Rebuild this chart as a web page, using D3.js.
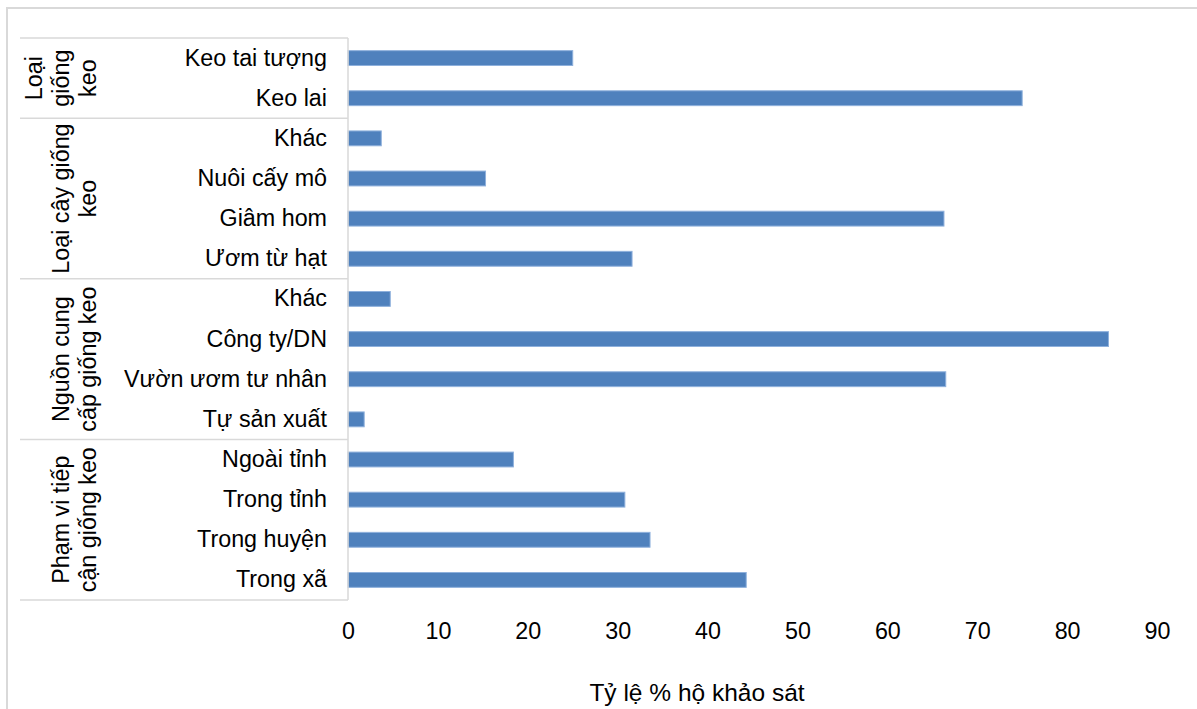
<!DOCTYPE html>
<html>
<head>
<meta charset="utf-8">
<script src="https://cdnjs.cloudflare.com/ajax/libs/d3/7.8.5/d3.min.js"></script>
<style>
  html, body { margin: 0; padding: 0; background: #fff; }
  svg { display: block; font-family: "Liberation Sans", Arial, sans-serif; }
</style>
</head>
<body>
<svg id="chart" width="1197" height="709"></svg>
<script>
// ---- data ----
const categories = ["Keo tai tượng", "Keo lai", "Khác", "Nuôi cấy mô", "Giâm hom", "Ươm từ hạt",
  "Khác", "Công ty/DN", "Vườn ươm tư nhân", "Tự sản xuất",
  "Ngoài tỉnh", "Trong tỉnh", "Trong huyện", "Trong xã"];
const values = [25, 75, 3.7, 15.3, 66.3, 31.6, 4.7, 84.6, 66.5, 1.8, 18.4, 30.8, 33.6, 44.3];
const groupNames = [["Loại", "giống", "keo"], ["Loại cây giống", "keo"], ["Nguồn cung", "cấp giống keo"], ["Phạm vi tiếp", "cận giống keo"]];
const groupSizes = [2, 4, 4, 4];
const tickValues = [0, 10, 20, 30, 40, 50, 60, 70, 80, 90];
const axisTitle = "Tỷ lệ % hộ khảo sát";

// ---- layout ----
const svg = d3.select("#chart");
const plotLeft = 348, plotRight = 1157, plotTop = 38, plotBottom = 600;
const labelFont = 23.3;

svg.append("rect").attr("x", 7).attr("y", 8).attr("width", 1220).attr("height", 720)
  .attr("fill", "none").attr("stroke", "#d9d9d9").attr("stroke-width", 2);

const x = d3.scaleLinear().domain([0, 90]).range([plotLeft, plotRight]);
const idx = categories.map((d, i) => i);
const y = d3.scaleBand().domain(idx).range([plotTop, plotBottom]).paddingInner(0.63).paddingOuter(0.315);

// bars
svg.append("g").selectAll("rect").data(idx).join("rect")
  .attr("x", x(0))
  .attr("y", i => y(i))
  .attr("width", i => x(values[i]) - x(0))
  .attr("height", y.bandwidth())
  .attr("fill", "#4f81bd")
  .attr("stroke", "#8eb0dc").attr("stroke-width", 1);

// x axis ticks (labels only)
const xAxis = d3.axisBottom(x).tickValues(tickValues).tickSize(0).tickPadding(0);
const gx = svg.append("g").attr("transform", `translate(0,${plotBottom})`).call(xAxis);
gx.select(".domain").remove();
gx.selectAll("text").attr("font-size", labelFont).attr("fill", "#000")
  .attr("font-family", "Liberation Sans, Arial, sans-serif").attr("dy", null).attr("y", 39);

// y axis category labels
const yAxis = d3.axisLeft(y).tickFormat(i => categories[i]).tickSize(0).tickPadding(21);
const gy = svg.append("g").attr("transform", `translate(${plotLeft},0)`).call(yAxis);
gy.select(".domain").remove();
gy.selectAll("text").attr("font-size", labelFont).attr("fill", "#000")
  .attr("font-family", "Liberation Sans, Arial, sans-serif");

// category frame lines
const lineColor = "#d9d9d9";
svg.append("line").attr("x1", plotLeft).attr("x2", plotLeft).attr("y1", plotTop).attr("y2", plotBottom)
  .attr("stroke", lineColor).attr("stroke-width", 1.5);
let start = 0;
const bounds = [0];
groupSizes.forEach(s => { start += s; bounds.push(start); });
const step = y.step();
const yEdge = k => plotTop + k * step;
svg.append("g").selectAll("line").data(bounds).join("line")
  .attr("x1", 20).attr("x2", plotLeft)
  .attr("y1", k => yEdge(k)).attr("y2", k => yEdge(k))
  .attr("stroke", lineColor).attr("stroke-width", 1.5);

// group labels (rotated)
const lastBaseline = 96, lineGap = 27;
groupNames.forEach((lines, g) => {
  const yc = (yEdge(bounds[g]) + yEdge(bounds[g + 1])) / 2;
  lines.forEach((t, j) => {
    const bx = lastBaseline - (lines.length - 1 - j) * lineGap;
    svg.append("text")
      .attr("transform", `translate(${bx},${yc}) rotate(-90)`)
      .attr("text-anchor", "middle")
      .attr("font-size", labelFont)
      .attr("fill", "#000")
      .text(t);
  });
});

// axis title
svg.append("text").attr("x", 697).attr("y", 701).attr("text-anchor", "middle")
  .attr("font-size", 24.5).attr("fill", "#000").text(axisTitle);
</script>
</body>
</html>
